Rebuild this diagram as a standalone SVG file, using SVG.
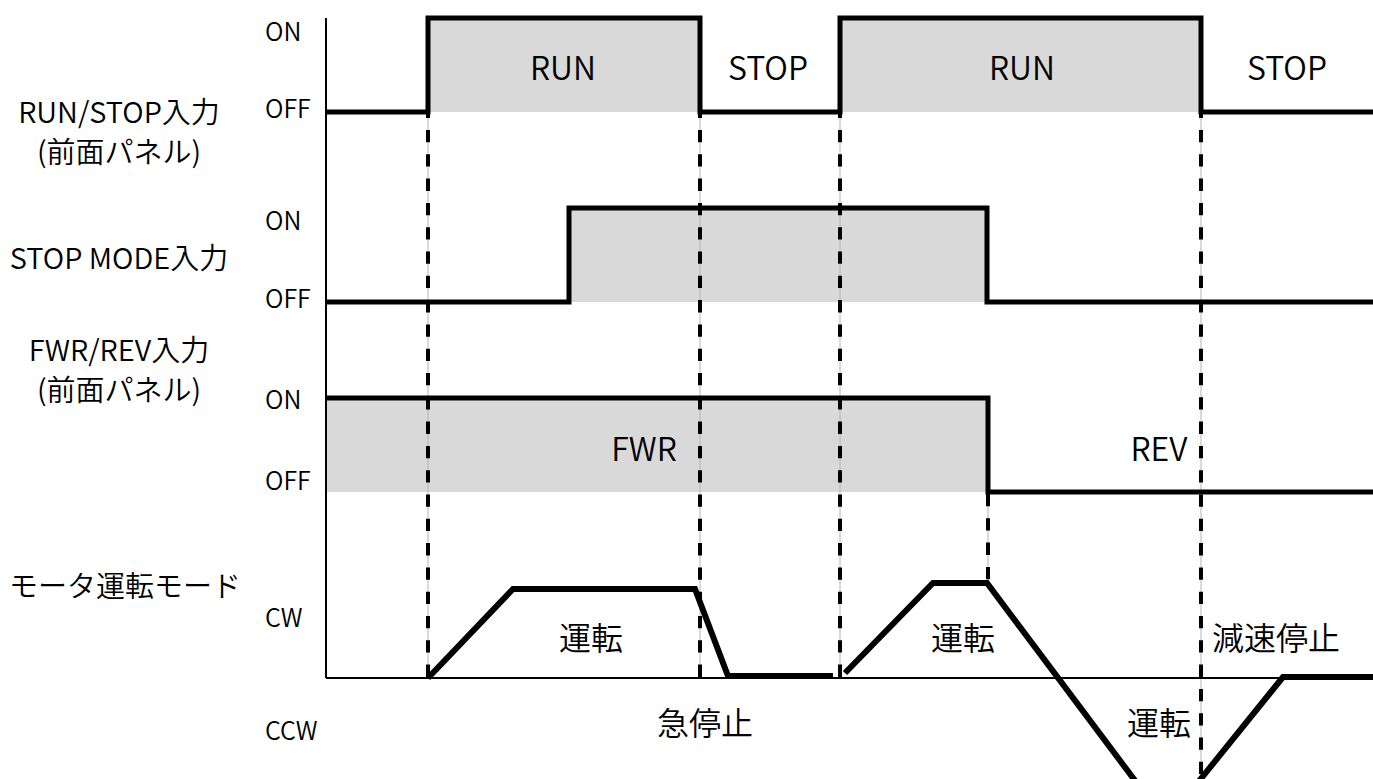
<svg xmlns="http://www.w3.org/2000/svg" width="1373" height="779" viewBox="0 0 1373 779">
<style>
text{font-family:"Noto Sans CJK JP","Noto Sans",sans-serif;fill:#000;font-weight:350}
.lbl{font-size:29px;text-anchor:middle}
.lvl{font-size:25px}
.st{font-size:32px;text-anchor:middle}
.fill{fill:#d9d9d9}
.sig{fill:none;stroke:#000;stroke-width:5;stroke-linejoin:miter;stroke-linecap:square}
.mot{fill:none;stroke:#000;stroke-width:6;stroke-linejoin:miter}
.axis{fill:none;stroke:#000;stroke-width:2}
.gl{stroke:#b4b4b4;stroke-width:1}
.dl{stroke:#000;stroke-width:4;stroke-dasharray:12.3 12}
</style>
<rect width="1373" height="779" fill="#fff"/>

<g id="fills">
<rect class="fill" x="428" y="18" width="272" height="94"/>
<rect class="fill" x="840" y="18" width="361" height="94"/>
<rect class="fill" x="569" y="208" width="418" height="94"/>
<rect class="fill" x="326" y="398" width="662" height="94"/>
</g>

<g id="connectors">
<line class="gl" x1="428" y1="112" x2="428" y2="678"/>
<line class="dl" x1="428" y1="105.7" x2="428" y2="678"/>
<line class="gl" x1="700" y1="112" x2="700" y2="678"/>
<line class="dl" x1="700" y1="105.7" x2="700" y2="678"/>
<line class="gl" x1="840" y1="112" x2="840" y2="678"/>
<line class="dl" x1="840" y1="105.7" x2="840" y2="678"/>
<line class="gl" x1="988" y1="492" x2="988" y2="583"/>
<line class="dl" x1="988" y1="494" x2="988" y2="583"/>
<line class="gl" x1="1201" y1="112" x2="1201" y2="779"/>
<line class="dl" x1="1201" y1="105.7" x2="1201" y2="779"/>
</g>

<g id="axes">
<line class="axis" x1="326" y1="18" x2="326" y2="678"/>
<line class="axis" x1="326" y1="678" x2="1373" y2="678"/>
</g>

<g id="run-stop">
<text class="lbl" x="119" y="123">RUN/STOP入力</text>
<text class="lbl" x="119" y="163">(前面パネル)</text>
<text class="lvl" x="265" y="41">ON</text>
<text class="lvl" x="265" y="118">OFF</text>
<polyline class="sig" points="328,112 428,112 428,18 700,18 700,112 840,112 840,18 1201,18 1201,112 1373,112"/>
<text class="st" x="563" y="80">RUN</text>
<text class="st" x="768" y="80">STOP</text>
<text class="st" x="1022" y="80">RUN</text>
<text class="st" x="1287" y="80">STOP</text>
</g>

<g id="stop-mode">
<text class="lbl" x="119" y="269">STOP MODE入力</text>
<text class="lvl" x="265" y="230">ON</text>
<text class="lvl" x="265" y="308">OFF</text>
<polyline class="sig" points="328,302 569,302 569,208 987,208 987,302 1373,302"/>
</g>

<g id="fwr-rev">
<text class="lbl" x="119" y="361">FWR/REV入力</text>
<text class="lbl" x="119" y="401">(前面パネル)</text>
<text class="lvl" x="265" y="409">ON</text>
<text class="lvl" x="265" y="490">OFF</text>
<polyline class="sig" points="328,398 988,398 988,492 1373,492"/>
<text class="st" x="644" y="461">FWR</text>
<text class="st" x="1159" y="461">REV</text>
</g>

<g id="motor">
<text class="lbl" x="125" y="597">モータ運転モード</text>
<text class="lvl" x="265" y="627">CW</text>
<text class="lvl" x="265" y="740">CCW</text>
<polyline class="mot" points="428,678 513,589 695,589 728,676 833,676"/>
<polyline class="mot" points="845,673 933,583 987,583 1166,822 1283,677 1373,677"/>
<text class="st" x="591" y="650">運転</text>
<text class="st" x="705" y="735">急停止</text>
<text class="st" x="963" y="650">運転</text>
<text class="st" x="1159" y="735">運転</text>
<text class="st" x="1276" y="650">減速停止</text>
</g>
</svg>
